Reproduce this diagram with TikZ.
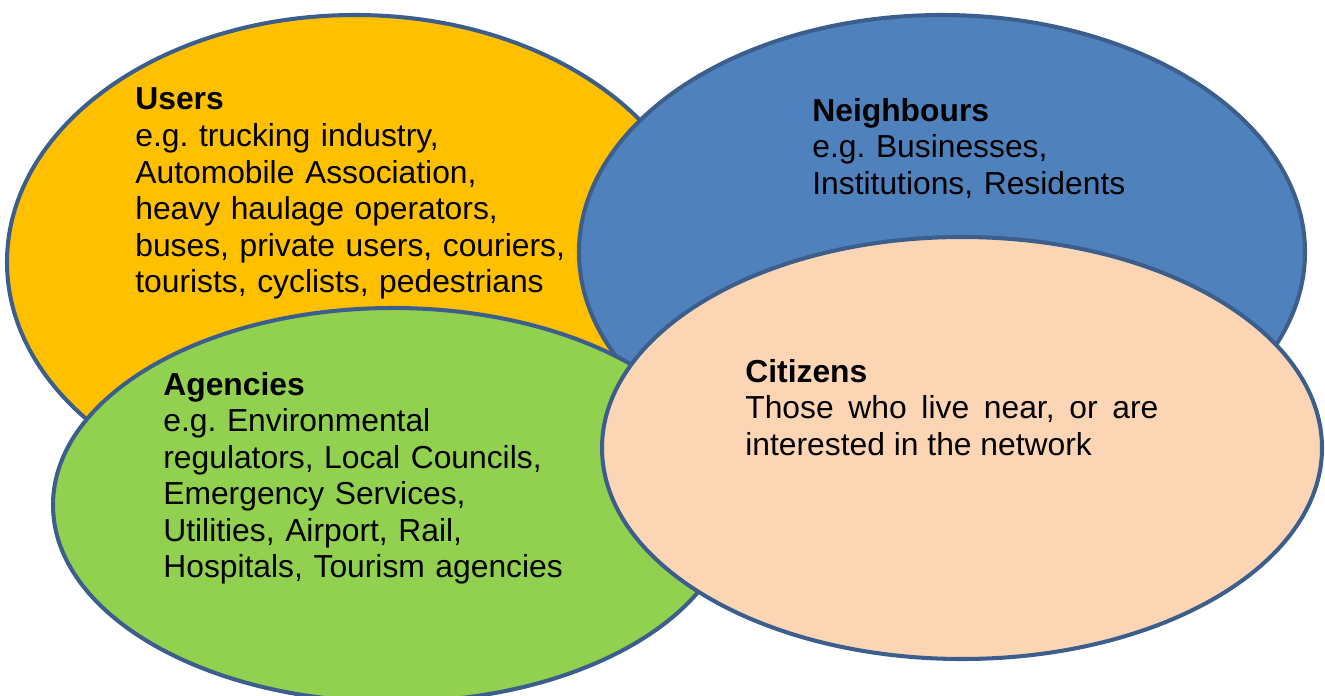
\documentclass[tikz,border=0pt]{standalone}
\usepackage{fontspec}
\setmainfont{Liberation Sans}
\usepackage{xcolor}
\usetikzlibrary{shapes.geometric}

\definecolor{rim}{HTML}{3B5E8C}
\definecolor{usersfill}{HTML}{FFC000}
\definecolor{neighfill}{HTML}{4F81BD}
\definecolor{agencyfill}{HTML}{92D050}
\definecolor{citizenfill}{HTML}{FCD5B5}

\frenchspacing

\begin{document}
\begin{tikzpicture}[
  stake/.style={ellipse, draw=rim, line width=2.3pt, inner sep=0pt},
  note/.style={anchor=base west, inner sep=0pt, text width=9.5cm,
    align=left, font=\fontsize{18.1}{20.8}\selectfont}
]
\useasboundingbox (0,0) rectangle (26.5,13.9);

% the four stakeholder groups, back to front
\node[stake, fill=usersfill, minimum width=13.92cm, minimum height=9.88cm] (users) at (7.10,8.66) {};
\node[stake, fill=neighfill, minimum width=14.52cm, minimum height=9.48cm] (neigh) at (18.84,8.86) {};
\node[stake, fill=agencyfill, minimum width=13.60cm, minimum height=7.88cm] (agency) at (7.86,3.80) {};
\node[stake, fill=citizenfill, minimum width=14.40cm, minimum height=8.44cm] (citizen) at (19.24,4.94) {};

% text in each group
\node[note] (userstext) at (2.70,11.70) {\textbf{Users}\\
  e.g. trucking industry,\\
  Automobile Association,\\
  heavy haulage operators,\\
  buses, private users, couriers,\\
  tourists, cyclists, pedestrians};
\node[note] (neightext) at (16.24,11.48) {\textbf{Neighbours}\\
  e.g. Businesses,\\
  Institutions, Residents};
\node[note] (agencytext) at (3.26,6.00) {\textbf{Agencies}\\
  e.g. Environmental\\
  regulators, Local Councils,\\
  Emergency Services,\\
  Utilities, Airport, Rail,\\
  Hospitals, Tourism agencies};
\node[note, text width=8.26cm, align=justify] (citizentext) at (14.90,6.26) {\textbf{Citizens}\newline
  Those who live near, or are\linebreak interested in the network};
\end{tikzpicture}
\end{document}
